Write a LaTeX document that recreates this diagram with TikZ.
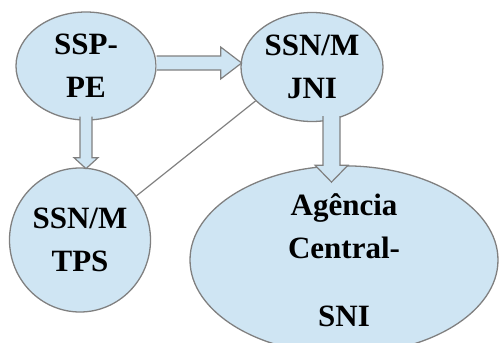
\documentclass[tikz,border=0pt]{standalone}
\usepackage{fontspec}
\setmainfont{Liberation Serif}
\usetikzlibrary{shapes.geometric,calc}
\definecolor{bubbleFill}{RGB}{207,229,243}
\definecolor{bubbleLine}{RGB}{128,128,128}
\newcommand\bubbleLineWidth{1.3pt}
\newcommand\arrowLineWidth{1.2pt}
\newcommand\linkLineWidth{1.2pt}
\newcommand\bubbleFont{\fontsize{31}{43}\selectfont\bfseries}

\tikzset{
    bubble/.style={draw=bubbleLine, fill=bubbleFill, line width=\bubbleLineWidth,
        shape=ellipse, inner sep=0pt, align=center, font=\bubbleFont},
    blockarrow/.style={draw=bubbleLine, fill=bubbleFill, line width=\arrowLineWidth, line join=miter},
    link/.style={draw=bubbleLine, line width=\linkLineWidth}
}

\begin{document}
\begin{tikzpicture}[x=1pt, y=-1pt]
    \useasboundingbox (0,0) rectangle (499,343);

    % the four bubbles
    \node [bubble, minimum width=140pt, minimum height=108pt] (sspPE) at (86,66) {SSP-\\PE};
    \node [bubble, minimum width=142pt, minimum height=109pt] (ssnJNI) at (312,67) {SSN/M\\JNI};
    \node [bubble, minimum width=141pt, minimum height=144pt] (ssnTPS) at (80,240) {SSN/M\\TPS};
    \node [bubble, minimum width=308pt, minimum height=162pt] (agencia) at (344,260) {Agência\\Central-\\[25pt]SNI};

    % block arrows, tails start on the bubble border
    \draw [blockarrow] ($(sspPE.east)+(0,-10)$) -- ++(64,0) -- ++(0,-9) -- ++(21,16) -- ++(-21,16) -- ++(0,-9) -- ++(-64,0);
    \draw [blockarrow] ($(sspPE.south)+(-6,-4)$) -- ++(0,41) -- ++(-6,0) -- ++(12,11) -- ++(12,-11) -- ++(-6,0) -- ++(0,-41);
    \draw [blockarrow] ($(ssnJNI.south)+(11,-6)$) -- ++(0,49) -- ++(-8,0) -- ++(16.5,17) -- ++(16.5,-17) -- ++(-8,0) -- ++(0,-49);

    % thin link between the two SSN/M bubbles
    \draw [link] (ssnTPS.38) -- (ssnJNI.211);

\end{tikzpicture}
\end{document}
